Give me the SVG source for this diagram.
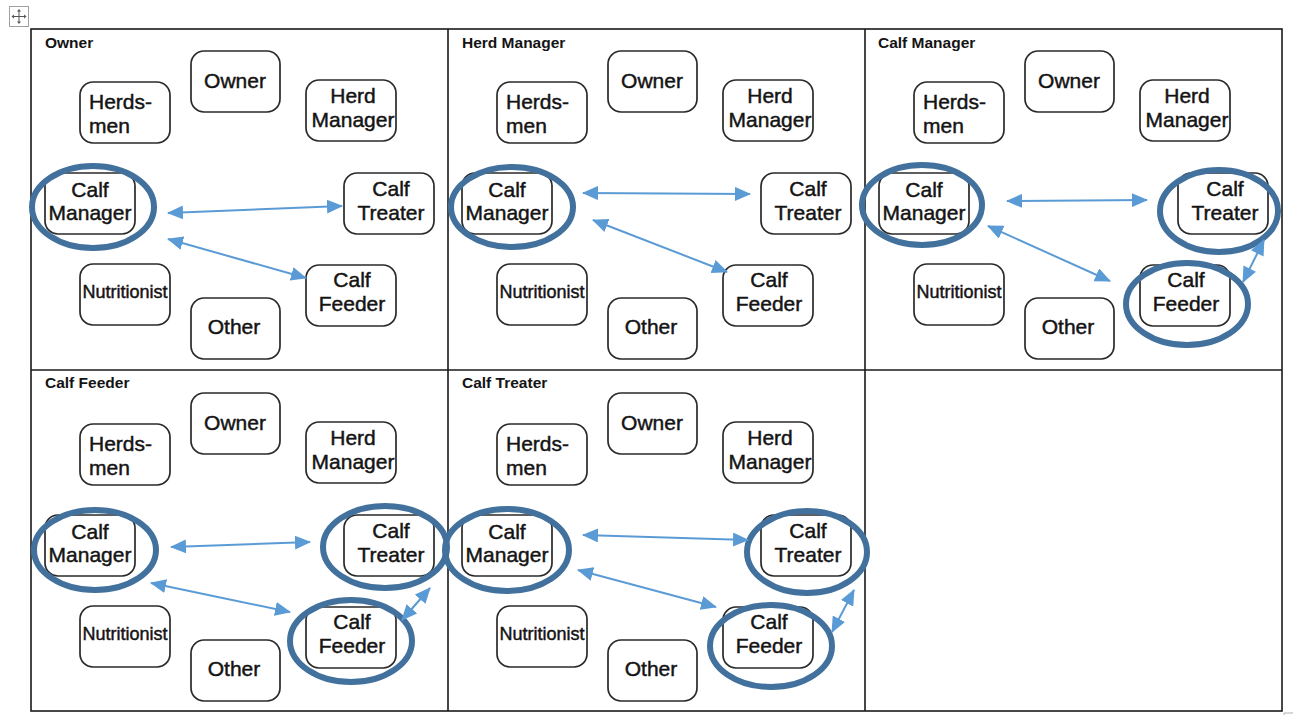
<svg xmlns="http://www.w3.org/2000/svg" width="1293" height="715" viewBox="0 0 1293 715">
<style>
.box{fill:#fff;stroke:#2a2a2a;stroke-width:1.7}
.t{font-family:"Liberation Sans",Arial,sans-serif;font-size:21px;fill:#141414;stroke:#141414;stroke-width:0.45;text-anchor:middle}
.tl{text-anchor:start}
.ts{font-size:18px}
.title{font-family:"Liberation Sans",Arial,sans-serif;font-size:15.5px;font-weight:bold;fill:#141414}
.grid{fill:none;stroke:#1a1a1a;stroke-width:1.6}
.hl{fill:none;stroke:#41719c;stroke-width:6}
.arr{fill:none;stroke:#5b9bd5;stroke-width:2;marker-start:url(#ah);marker-end:url(#ah)}
</style>
<defs>
<marker id="ah" markerUnits="userSpaceOnUse" markerWidth="16" markerHeight="14" refX="15" refY="7" orient="auto-start-reverse" viewBox="0 0 16 14">
<path d="M0,0 L16,7 L0,14 z" fill="#5b9bd5"/>
</marker>
</defs>
<rect width="1293" height="715" fill="#fff"/>
<!-- move handle -->
<g id="handle">
<rect x="9.5" y="6.5" width="19" height="20" fill="#fff" stroke="#a0a0a0" stroke-width="1"/>
<path d="M19,10 V23 M12.5,16.5 H25.5" stroke="#555" stroke-width="1" fill="none"/>
<path d="M19,9 l-2,2.5 h4 z M19,24 l-2,-2.5 h4 z M11.5,16.5 l2.5,-2 v4 z M26.5,16.5 l-2.5,-2 v4 z" fill="#555"/>
</g>
<!-- table grid -->
<g id="table">
<rect class="grid" x="31" y="29" width="1251" height="682"/>
<path class="grid" d="M448,29 V711 M865,29 V711 M31,370 H1282"/>
<path d="M1284,713 H1293 M1284,713 V715" stroke="#b0b0b0" stroke-width="1" fill="none"/>
</g>
<!-- titles -->
<g id="titles">
<text class="title" x="45" y="48">Owner</text>
<text class="title" x="462" y="48">Herd Manager</text>
<text class="title" x="878" y="48">Calf Manager</text>
<text class="title" x="45" y="388">Calf Feeder</text>
<text class="title" x="462" y="388">Calf Treater</text>
</g>

<!-- Panel 1 -->
<g id="panel1">
<g id="p1-owner"><rect class="box" x="191" y="51" width="89" height="61" rx="13"/><text class="t" x="235" y="88">Owner</text></g>
<g id="p1-herdsmen"><rect class="box" x="80" y="82" width="90" height="61" rx="13"/><text class="t tl" x="89" y="109">Herds-</text><text class="t tl" x="89" y="133">men</text></g>
<g id="p1-herdmanager"><rect class="box" x="306" y="80" width="90" height="61" rx="13"/><text class="t" x="353" y="103">Herd</text><text class="t" x="353" y="127">Manager</text></g>
<g id="p1-calfmanager"><rect class="box" x="45" y="173" width="90" height="61" rx="13"/><text class="t" x="90" y="197">Calf</text><text class="t" x="90" y="220">Manager</text></g>
<g id="p1-calftreater"><rect class="box" x="344" y="173" width="90" height="61" rx="13"/><text class="t" x="391" y="196">Calf</text><text class="t" x="391" y="220">Treater</text></g>
<g id="p1-nutritionist"><rect class="box" x="80" y="264" width="90" height="61" rx="13"/><text class="t ts" x="125" y="298">Nutritionist</text></g>
<g id="p1-calffeeder"><rect class="box" x="306" y="265" width="90" height="61" rx="13"/><text class="t" x="352" y="287">Calf</text><text class="t" x="352" y="311">Feeder</text></g>
<g id="p1-other"><rect class="box" x="191" y="298" width="89" height="61" rx="13"/><text class="t" x="234" y="334">Other</text></g>
</g>

<!-- Panel 2 -->
<g id="panel2" transform="translate(417,0)">
<g id="p2-owner"><rect class="box" x="191" y="51" width="89" height="61" rx="13"/><text class="t" x="235" y="88">Owner</text></g>
<g id="p2-herdsmen"><rect class="box" x="80" y="82" width="90" height="61" rx="13"/><text class="t tl" x="89" y="109">Herds-</text><text class="t tl" x="89" y="133">men</text></g>
<g id="p2-herdmanager"><rect class="box" x="306" y="80" width="90" height="61" rx="13"/><text class="t" x="353" y="103">Herd</text><text class="t" x="353" y="127">Manager</text></g>
<g id="p2-calfmanager"><rect class="box" x="45" y="173" width="90" height="61" rx="13"/><text class="t" x="90" y="197">Calf</text><text class="t" x="90" y="220">Manager</text></g>
<g id="p2-calftreater"><rect class="box" x="344" y="173" width="90" height="61" rx="13"/><text class="t" x="391" y="196">Calf</text><text class="t" x="391" y="220">Treater</text></g>
<g id="p2-nutritionist"><rect class="box" x="80" y="264" width="90" height="61" rx="13"/><text class="t ts" x="125" y="298">Nutritionist</text></g>
<g id="p2-calffeeder"><rect class="box" x="306" y="265" width="90" height="61" rx="13"/><text class="t" x="352" y="287">Calf</text><text class="t" x="352" y="311">Feeder</text></g>
<g id="p2-other"><rect class="box" x="191" y="298" width="89" height="61" rx="13"/><text class="t" x="234" y="334">Other</text></g>
</g>

<!-- Panel 3 -->
<g id="panel3" transform="translate(834,0)">
<g id="p3-owner"><rect class="box" x="191" y="51" width="89" height="61" rx="13"/><text class="t" x="235" y="88">Owner</text></g>
<g id="p3-herdsmen"><rect class="box" x="80" y="82" width="90" height="61" rx="13"/><text class="t tl" x="89" y="109">Herds-</text><text class="t tl" x="89" y="133">men</text></g>
<g id="p3-herdmanager"><rect class="box" x="306" y="80" width="90" height="61" rx="13"/><text class="t" x="353" y="103">Herd</text><text class="t" x="353" y="127">Manager</text></g>
<g id="p3-calfmanager"><rect class="box" x="45" y="173" width="90" height="61" rx="13"/><text class="t" x="90" y="197">Calf</text><text class="t" x="90" y="220">Manager</text></g>
<g id="p3-calftreater"><rect class="box" x="344" y="173" width="90" height="61" rx="13"/><text class="t" x="391" y="196">Calf</text><text class="t" x="391" y="220">Treater</text></g>
<g id="p3-nutritionist"><rect class="box" x="80" y="264" width="90" height="61" rx="13"/><text class="t ts" x="125" y="298">Nutritionist</text></g>
<g id="p3-calffeeder"><rect class="box" x="306" y="265" width="90" height="61" rx="13"/><text class="t" x="352" y="287">Calf</text><text class="t" x="352" y="311">Feeder</text></g>
<g id="p3-other"><rect class="box" x="191" y="298" width="89" height="61" rx="13"/><text class="t" x="234" y="334">Other</text></g>
</g>

<!-- Panel 4 -->
<g id="panel4" transform="translate(0,342)">
<g id="p4-owner"><rect class="box" x="191" y="51" width="89" height="61" rx="13"/><text class="t" x="235" y="88">Owner</text></g>
<g id="p4-herdsmen"><rect class="box" x="80" y="82" width="90" height="61" rx="13"/><text class="t tl" x="89" y="109">Herds-</text><text class="t tl" x="89" y="133">men</text></g>
<g id="p4-herdmanager"><rect class="box" x="306" y="80" width="90" height="61" rx="13"/><text class="t" x="353" y="103">Herd</text><text class="t" x="353" y="127">Manager</text></g>
<g id="p4-calfmanager"><rect class="box" x="45" y="173" width="90" height="61" rx="13"/><text class="t" x="90" y="197">Calf</text><text class="t" x="90" y="220">Manager</text></g>
<g id="p4-calftreater"><rect class="box" x="344" y="173" width="90" height="61" rx="13"/><text class="t" x="391" y="196">Calf</text><text class="t" x="391" y="220">Treater</text></g>
<g id="p4-nutritionist"><rect class="box" x="80" y="264" width="90" height="61" rx="13"/><text class="t ts" x="125" y="298">Nutritionist</text></g>
<g id="p4-calffeeder"><rect class="box" x="306" y="265" width="90" height="61" rx="13"/><text class="t" x="352" y="287">Calf</text><text class="t" x="352" y="311">Feeder</text></g>
<g id="p4-other"><rect class="box" x="191" y="298" width="89" height="61" rx="13"/><text class="t" x="234" y="334">Other</text></g>
</g>

<!-- Panel 5 -->
<g id="panel5" transform="translate(417,342)">
<g id="p5-owner"><rect class="box" x="191" y="51" width="89" height="61" rx="13"/><text class="t" x="235" y="88">Owner</text></g>
<g id="p5-herdsmen"><rect class="box" x="80" y="82" width="90" height="61" rx="13"/><text class="t tl" x="89" y="109">Herds-</text><text class="t tl" x="89" y="133">men</text></g>
<g id="p5-herdmanager"><rect class="box" x="306" y="80" width="90" height="61" rx="13"/><text class="t" x="353" y="103">Herd</text><text class="t" x="353" y="127">Manager</text></g>
<g id="p5-calfmanager"><rect class="box" x="45" y="173" width="90" height="61" rx="13"/><text class="t" x="90" y="197">Calf</text><text class="t" x="90" y="220">Manager</text></g>
<g id="p5-calftreater"><rect class="box" x="344" y="173" width="90" height="61" rx="13"/><text class="t" x="391" y="196">Calf</text><text class="t" x="391" y="220">Treater</text></g>
<g id="p5-nutritionist"><rect class="box" x="80" y="264" width="90" height="61" rx="13"/><text class="t ts" x="125" y="298">Nutritionist</text></g>
<g id="p5-calffeeder"><rect class="box" x="306" y="265" width="90" height="61" rx="13"/><text class="t" x="352" y="287">Calf</text><text class="t" x="352" y="311">Feeder</text></g>
<g id="p5-other"><rect class="box" x="191" y="298" width="89" height="61" rx="13"/><text class="t" x="234" y="334">Other</text></g>
</g>

<!-- highlight ellipses -->
<g id="highlights">
<ellipse class="hl" cx="93" cy="207" rx="61" ry="41"/>
<ellipse class="hl" cx="512" cy="207" rx="61" ry="40"/>
<ellipse class="hl" cx="922" cy="205" rx="60" ry="40"/>
<ellipse class="hl" cx="1219" cy="211" rx="59" ry="41"/>
<ellipse class="hl" cx="1187" cy="304" rx="61" ry="41"/>
<ellipse class="hl" cx="95" cy="550" rx="61" ry="40"/>
<ellipse class="hl" cx="385" cy="547" rx="62" ry="41"/>
<ellipse class="hl" cx="351" cy="641" rx="61" ry="41"/>
<ellipse class="hl" cx="507" cy="550" rx="62" ry="41"/>
<ellipse class="hl" cx="807" cy="552" rx="60" ry="41"/>
<ellipse class="hl" cx="771" cy="646" rx="61" ry="41"/>
</g>

<!-- connectors -->
<g id="connectors">
<line class="arr" x1="168" y1="213" x2="342" y2="206"/>
<line class="arr" x1="168" y1="239" x2="306" y2="278"/>
<line class="arr" x1="583" y1="193" x2="750" y2="194"/>
<line class="arr" x1="593" y1="220" x2="727" y2="272"/>
<line class="arr" x1="1007" y1="201" x2="1147" y2="200"/>
<line class="arr" x1="988" y1="226" x2="1110" y2="281"/>
<line class="arr" x1="1264" y1="240" x2="1243" y2="282"/>
<line class="arr" x1="171" y1="547" x2="310" y2="542"/>
<line class="arr" x1="151" y1="583" x2="290" y2="612"/>
<line class="arr" x1="430" y1="588" x2="402" y2="620"/>
<line class="arr" x1="583" y1="535" x2="748" y2="540"/>
<line class="arr" x1="578" y1="570" x2="716" y2="607"/>
<line class="arr" x1="854" y1="590" x2="832" y2="632"/>
</g>
</svg>
